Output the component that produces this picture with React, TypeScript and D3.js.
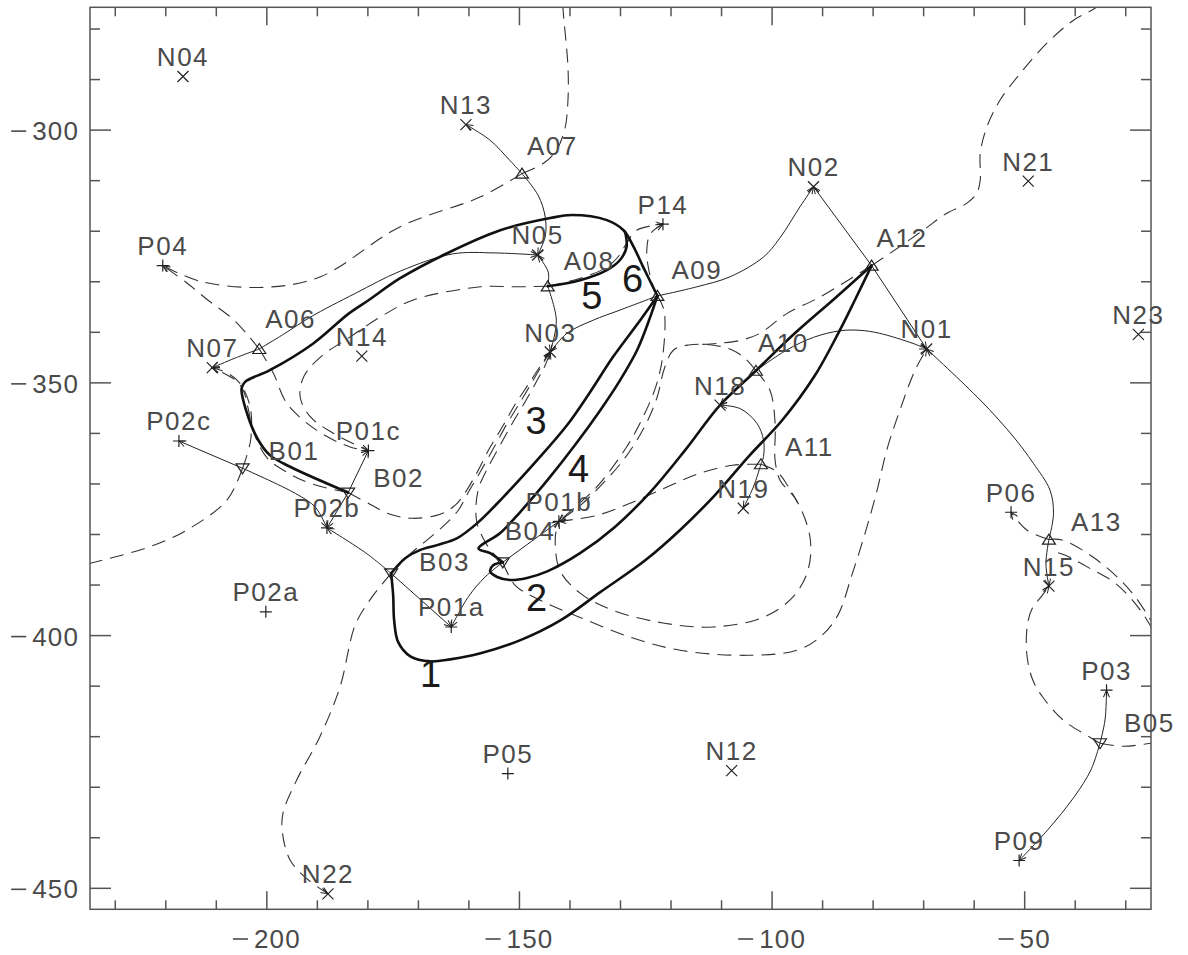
import React from 'react';
import * as d3 from 'd3';

type Node = [string, number, number];
type Pt = string | [number, number];
interface Trace { id: string; pts: Pt[] }

// ---- sources and nulls (x, y in Mm) ----
const negativeSources: Node[] = [
  ['N01', -69.4, -343.3], ['N02', -91.8, -311.2], ['N03', -143.9, -343.9], ['N04', -216.6, -289.4],
  ['N05', -146.4, -324.7], ['N07', -210.8, -347.0], ['N12', -108.0, -426.7], ['N13', -160.6, -298.9],
  ['N14', -181.2, -344.7], ['N15', -45.2, -390.2], ['N18', -110.3, -354.4], ['N19', -105.7, -374.8],
  ['N21', -49.3, -310.1], ['N22', -187.9, -451.1], ['N23', -27.5, -340.4],
];
const positiveSources: Node[] = [
  ['P01a', -163.5, -398.3], ['P01b', -142.2, -377.4], ['P01c', -179.9, -363.4],
  ['P02a', -200.2, -395.3], ['P02b', -188.1, -378.7], ['P02c', -217.4, -361.5],
  ['P03', -33.8, -410.8], ['P04', -220.6, -326.8], ['P05', -152.3, -427.3],
  ['P06', -52.7, -375.6], ['P09', -51.1, -444.5], ['P14', -121.6, -318.6],
];
const uprightNulls: Node[] = [
  ['A06', -201.5, -343.3], ['A07', -149.5, -308.6], ['A08', -144.4, -330.9], ['A09', -122.7, -332.8],
  ['A10', -103.2, -347.6], ['A11', -102.2, -366.1], ['A12', -80.3, -326.8], ['A13', -45.2, -381.0],
];
const proneNulls: Node[] = [
  ['B01', -204.8, -366.9], ['B02', -183.9, -371.7], ['B03', -175.4, -387.7],
  ['B04', -153.3, -385.5], ['B05', -35.1, -421.3],
];

// ---- separators (thick) ----
const separators: Trace[] = [
  { id: 'outer', pts: ['B02', [-195.4, -366.6], [-199.4, -364.3], [-201.7, -361.3], [-203.7, -356.7], [-205.0, -351.1], [-204.3, -349.8], [-199.4, -347.5], [-190.8, -342.2], [-183.8, -336.3], [-179.8, -333.6], [-173.6, -329.3], [-164.4, -324.4], [-153.8, -319.8], [-143.9, -317.4], [-139.7, -316.8], [-132.7, -317.8], [-129.4, -319.8], [-127.4, -323.1], [-125.5, -327.1], 'A09'] },
  { id: 'lobe5', pts: [[-129.1, -320.1], [-128.8, -323.1], [-130.1, -325.7], [-132.7, -327.7], [-138.0, -329.7], 'A08'] },
  { id: 'a09-b03', pts: ['A09', [-126.1, -337.6], [-131.5, -344.9], [-136.0, -351.8], [-140.6, -358.4], [-146.5, -365.3], [-153.2, -372.6], [-158.4, -377.8], [-162.3, -380.7], [-166.3, -382.1], [-169.7, -383.1], [-172.6, -384.7], 'B03'] },
  { id: 'a09-b04', pts: ['A09', [-124.2, -337.2], [-126.7, -343.5], [-130.1, -349.5], [-134.0, -355.4], [-139.0, -362.3], [-144.5, -369.3], [-149.9, -375.6], [-153.8, -379.7], [-158.1, -382.8], [-155.8, -383.7], 'B04'] },
  { id: 'b04-a12', pts: ['B04', [-155.2, -386.1], [-155.8, -387.3], [-154.4, -388.4], [-151.9, -389.0], [-148.5, -388.6], [-144.5, -387.3], [-138.0, -383.7], [-131.1, -378.5], [-124.1, -371.6], [-117.2, -363.3], 'N18', 'A10', [-95.5, -340.2], [-87.6, -333.3], 'A12'] },
  { id: 'b03-a12', pts: ['B03', [-175.0, -392.0], [-174.8, -397.0], [-174.0, -401.3], [-171.6, -404.1], [-167.6, -405.1], [-163.7, -404.7], [-157.7, -403.5], [-149.8, -400.9], [-141.9, -397.0], [-134.0, -391.4], [-125.1, -385.1], [-118.2, -379.1], [-111.3, -372.2], [-104.4, -364.3], [-98.0, -357.4], [-91.5, -348.5], [-86.6, -339.6], [-83.6, -333.6], 'A12'] },
];

// ---- spines (thin solid), null first ----
const spines: Trace[] = [
  { id: 'a07-n13', pts: ['A07', [-151.9, -306.0], [-155.8, -302.0], 'N13'] },
  { id: 'a07-n05', pts: ['A07', [-146.3, -312.9], [-144.9, -317.2], [-144.9, -321.0], 'N05'] },
  { id: 'a08-n05', pts: ['A08', [-144.3, -328.1], 'N05'] },
  { id: 'a08-n03', pts: ['A08', [-142.7, -337.6], 'N03'] },
  { id: 'a06-n07', pts: ['A06', [-206.3, -345.1], 'N07'] },
  { id: 'a06-n05', pts: ['A06', [-196.4, -340.2], [-191.4, -337.0], [-182.5, -332.3], [-173.6, -327.9], [-163.3, -324.5], [-154.8, -324.3], 'N05'] },
  { id: 'a09-n03', pts: ['A09', [-130.1, -335.6], [-135.4, -337.6], [-140.6, -340.2], 'N03'] },
  { id: 'a09-n02', pts: ['A09', [-114.9, -331.0], [-108.3, -329.0], [-101.7, -325.1], [-98.5, -321.4], [-94.5, -315.2], 'N02'] },
  { id: 'a12-n02', pts: ['A12', 'N02'] },
  { id: 'a12-n01', pts: ['A12', 'N01'] },
  { id: 'a10-n18', pts: ['A10', 'N18'] },
  { id: 'a10-n01', pts: ['A10', [-97.1, -343.5], [-91.8, -341.0], [-86.6, -339.7], [-82.6, -339.6], [-78.7, -340.2], [-72.1, -342.2], 'N01'] },
  { id: 'a11-n18', pts: ['A11', [-101.7, -364.6], [-101.7, -361.3], [-103.0, -358.0], [-106.3, -355.1], 'N18'] },
  { id: 'a11-n19', pts: ['A11', [-103.7, -370.6], 'N19'] },
  { id: 'a13-n01', pts: ['A13', [-44.3, -375.8], [-45.0, -371.2], [-48.3, -365.9], [-52.2, -360.7], [-58.8, -353.4], 'N01'] },
  { id: 'a13-n15', pts: ['A13', [-45.8, -385.7], 'N15'] },
  { id: 'b01-p02c', pts: ['B01', 'P02c'] },
  { id: 'b01-p02b', pts: ['B01', [-194.3, -371.9], [-190.4, -374.6], 'P02b'] },
  { id: 'b02-p01c', pts: ['B02', 'P01c'] },
  { id: 'b02-p02b', pts: ['B02', 'P02b'] },
  { id: 'b03-p02b', pts: ['B03', [-180.2, -383.8], 'P02b'] },
  { id: 'b03-p01a', pts: ['B03', 'P01a'] },
  { id: 'b04-p01a', pts: ['B04', [-156.8, -388.4], [-160.1, -392.3], 'P01a'] },
  { id: 'b04-p01b', pts: ['B04', 'P01b'] },
  { id: 'b05-p03', pts: ['B05', [-34.1, -416.7], 'P03'] },
  { id: 'b05-p09', pts: ['B05', [-36.9, -426.6], [-40.2, -431.9], [-45.5, -438.5], 'P09'] },
];

// ---- fan traces (dashed), null first ----
const fans: Trace[] = [
  { id: 'a07-p04', pts: ['A07', [-157.7, -313.2], [-173.6, -319.1], [-189.4, -329.0], [-200.6, -331.1], [-213.2, -329.9], 'P04'] },
  { id: 'a07-top', pts: ['A07', [-145.3, -306.6], [-142.7, -304.0], [-141.0, -299.7], [-140.4, -294.1], [-140.4, -287.5], [-141.4, -275.7], [-141.5, -273.0]] },
  { id: 'a06-p04', pts: ['A06', [-206.5, -337.6], [-211.7, -333.6], [-216.0, -330.1], 'P04'] },
  { id: 'a06-p01c', pts: ['A06', [-198.7, -348.1], [-196.0, -354.1], [-190.1, -359.4], [-183.5, -362.7], 'P01c'] },
  { id: 'a08-p01c', pts: ['A08', [-151.0, -331.0], [-157.7, -331.0], [-171.0, -333.6], [-177.6, -337.0], [-183.5, -340.9], [-189.4, -344.9], [-192.7, -348.8], [-193.4, -352.8], [-191.4, -356.7], [-186.8, -360.0], [-181.5, -362.7], 'P01c'] },
  { id: 'a08-p14', pts: ['A08', [-138.0, -329.3], [-133.0, -327.3], [-130.5, -325.1], [-128.8, -322.4], [-126.8, -319.8], 'P14'] },
  { id: 'a09-p14', pts: ['A09', [-123.5, -331.0], [-124.5, -327.1], [-124.8, -323.8], [-124.1, -320.5], 'P14'] },
  { id: 'a09-p01b', pts: ['A09', [-121.4, -335.6], [-121.5, -343.5], [-122.8, -350.1], [-125.5, -356.7], [-128.8, -362.7], [-134.7, -370.6], [-138.8, -374.4], 'P01b'] },
  { id: 'a10-p01b-up', pts: ['A10', [-105.3, -345.2], [-107.9, -343.5], [-111.9, -342.5], [-116.5, -342.5], [-119.5, -343.5], [-121.3, -347.1], [-122.8, -353.0], [-125.4, -359.0], [-129.0, -364.7], [-133.3, -369.7], [-137.9, -374.2], 'P01b'] },
  { id: 'a10-p01b-loop', pts: ['A10', [-100.4, -351.5], [-99.4, -358.0], [-99.4, -365.3], [-98.4, -369.3], [-95.2, -373.2], [-92.5, -380.5], [-92.9, -387.1], [-95.9, -392.4], [-101.8, -396.4], [-111.7, -398.3], [-121.6, -397.5], [-131.5, -395.0], [-138.0, -391.6], [-142.0, -387.1], [-142.9, -380.5], 'P01b'] },
  { id: 'a11-p01b', pts: ['A11', [-107.8, -366.3], [-114.3, -367.9], [-120.8, -370.6], [-128.1, -373.8], [-134.6, -376.2], 'P01b'] },
  { id: 'a11-east', pts: ['A11', [-99.0, -367.6], [-96.8, -370.5], [-95.0, -373.6]] },
  { id: 'a12-top', pts: ['A12', [-76.7, -324.4], [-70.1, -319.8], [-65.5, -316.5], [-61.5, -314.5], [-59.5, -312.5], [-58.8, -309.9], [-58.8, -304.6], [-57.5, -299.4], [-54.9, -294.1], [-50.9, -288.8], [-45.7, -282.9], [-40.4, -278.3], [-35.8, -275.7], [-33.5, -273.5]] },
  { id: 'a12-west', pts: ['A12', [-90.5, -333.0], [-97.1, -336.3], [-102.4, -340.2], [-106.3, -341.6], [-110.9, -342.2], [-114.0, -342.4]] },
  { id: 'b01-n07', pts: ['B01', [-203.2, -361.3], [-203.3, -354.8], [-205.3, -350.1], [-207.7, -348.1], 'N07'] },
  { id: 'b01-west', pts: ['B01', [-207.9, -373.2], [-215.8, -379.1], [-223.1, -382.4], [-235.0, -385.7], [-237.0, -386.2]] },
  { id: 'b02-n03', pts: ['B02', [-179.6, -374.0], [-175.6, -376.0], [-171.1, -376.8], [-165.7, -376.0], [-162.7, -374.2], [-160.8, -371.8], [-158.6, -368.1], [-156.0, -363.1], [-153.2, -358.4], [-150.7, -354.0], [-148.1, -350.1], [-145.9, -346.7], 'N03'] },
  { id: 'b02-n07', pts: ['B02', [-191.4, -369.9], [-196.0, -367.7], [-199.9, -364.9], [-202.6, -359.8], [-203.8, -354.6], [-204.7, -351.4], [-206.3, -349.4], 'N07'] },
  { id: 'b03-n03', pts: ['B03', [-171.7, -383.9], [-168.3, -381.1], [-164.7, -378.0], [-162.1, -375.2], [-160.2, -371.8], [-157.8, -367.7], [-155.0, -362.7], [-152.3, -357.8], [-149.6, -353.4], [-147.3, -349.5], [-145.3, -346.1], 'N03'] },
  { id: 'b03-n22', pts: ['B03', [-179.2, -392.4], [-182.5, -397.9], [-185.5, -410.1], [-189.5, -420.0], [-194.1, -428.6], [-196.8, -435.1], [-196.9, -439.1], [-195.4, -444.4], [-192.2, -448.0], 'N22'] },
  { id: 'b04-n03', pts: ['B04', [-155.4, -383.5], [-157.0, -381.1], [-158.4, -377.8], [-158.6, -374.2], [-158.0, -370.6], [-156.2, -366.7], [-153.8, -362.3], [-151.3, -357.8], [-148.9, -353.8], [-146.5, -349.5], [-144.9, -346.5], 'N03'] },
  { id: 'b04-n01', pts: ['B04', [-150.9, -390.0], [-145.9, -393.0], [-138.0, -396.4], [-128.1, -400.3], [-118.2, -402.9], [-104.9, -403.9], [-95.1, -402.9], [-90.5, -400.3], [-87.0, -396.0], [-84.2, -388.0], [-81.4, -379.1], [-79.2, -371.2], [-77.3, -363.3], [-74.7, -355.4], [-71.7, -347.5], 'N01'] },
  { id: 'b05-n15', pts: ['B05', [-37.1, -420.1], [-42.4, -416.7], [-46.4, -412.2], [-48.4, -408.8], [-49.6, -403.5], [-49.4, -397.5], [-48.4, -394.4], [-46.8, -392.4], 'N15'] },
  { id: 'b05-east', pts: ['B05', [-30.6, -421.9], [-25.0, -421.3], [-23.0, -421.0]] },
  { id: 'a13-p06', pts: ['A13', [-49.6, -379.1], 'P06'] },
  { id: 'a13-east', pts: ['A13', [-42.6, -381.1], [-35.6, -385.1], [-29.2, -391.0], [-25.0, -397.0], [-23.5, -399.5]] },
  { id: 'east-trace', pts: [[-43.4, -383.6], [-41.7, -384.2], [-37.1, -386.7], [-32.5, -389.3], [-29.2, -392.4], [-26.8, -395.4], [-24.6, -398.9], [-23.5, -400.8]] },
];

// ---- numbered flux domains ----
const domainNumbers: [string, number, number][] = [
  ['1', -167.6, -407.4], ['2', -146.6, -392.5], ['3', -146.7, -357.4],
  ['4', -138.3, -367.0], ['5', -135.7, -332.7], ['6', -127.6, -329.3],
];

// ---- axes ----
const xDomain: [number, number] = [-235, -25];
const yDomain: [number, number] = [-275.7, -454.15];
const xMajorTicks = [-200, -150, -100, -50];
const yMajorTicks = [-300, -350, -400, -450];
const xMinorTicks = [-230, -220, -210, -190, -180, -170, -160, -140, -130, -120, -110, -90, -80, -70, -60, -40, -30];
const yMinorTicks = [-280, -290, -310, -320, -330, -340, -360, -370, -380, -390, -410, -420, -430, -440];

// label placement for nulls (pixel offset of text start / baseline)
const nullLabelOffset: Record<string, [number, number]> = {
  A06: [6, -21], A07: [5, -19], A08: [16, -16], A09: [14, -17], A10: [2, -19], A11: [24, -8],
  A12: [5, -19], A13: [22, -9], B01: [26, -8], B02: [25, -6], B03: [28, -2], B04: [2, -22], B05: [24, -11],
};

const frame = { left: 90, right: 1151, top: 7.3, bottom: 909.3 };
const FONT = "'Liberation Sans', Arial, sans-serif";
const AXIS = '#555';
const TEXT = '#4a4a4a';

// tick label: long minus bar followed by the magnitude
function TickLabel({ x, y, value, anchor }: { x: number; y: number; value: number; anchor: 'middle' | 'end' }) {
  const digits = String(Math.abs(value));
  const digitW = 15.6;
  const minusW = 15;
  const gap = 6;
  const total = minusW + gap + digits.length * digitW;
  const x0 = anchor === 'middle' ? x - total / 2 : x - total;
  return (
    <g>
      <line x1={x0} x2={x0 + minusW} y1={y - 9} y2={y - 9} stroke={TEXT} strokeWidth={1.6} />
      <text x={x0 + minusW + gap} y={y} letterSpacing={1.2}>{digits}</text>
    </g>
  );
}

export default function App() {
  const x = d3.scaleLinear().domain(xDomain).range([frame.left, frame.right]);
  const y = d3.scaleLinear().domain(yDomain).range([frame.top, frame.bottom]);

  const nodeMap = new Map<string, [number, number]>();
  [...negativeSources, ...positiveSources, ...uprightNulls, ...proneNulls].forEach(([n, vx, vy]) => nodeMap.set(n, [vx, vy]));
  const resolve = (p: Pt): [number, number] => (typeof p === 'string' ? nodeMap.get(p)! : p);

  const line = d3.line<[number, number]>()
    .x(d => x(d[0]))
    .y(d => y(d[1]))
    .curve(d3.curveCatmullRom.alpha(0.5));
  const pathOf = (t: Trace) => line(t.pts.map(resolve)) || '';
  const endsAtSource = (t: Trace) => {
    const last = t.pts[t.pts.length - 1];
    return typeof last === 'string' && (last[0] === 'N' || last[0] === 'P');
  };

  const tri = (up: boolean) => (up ? 'M0,-5.5 L6.5,4.5 L-6.5,4.5 Z' : 'M0,5.5 L6.5,-4.5 L-6.5,-4.5 Z');

  return (
    <svg width={1188} height={955} style={{ position: 'absolute', left: 0, top: 0, background: '#fff' }}
      fontFamily={FONT}>
      <defs>
        <clipPath id="plot-clip">
          <rect x={frame.left} y={frame.top} width={frame.right - frame.left} height={frame.bottom - frame.top} />
        </clipPath>
        <marker id="arrow" viewBox="-9 -5 10 10" refX={0} refY={0} markerWidth={10} markerHeight={10}
          markerUnits="userSpaceOnUse" orient="auto">
          <path d="M-7,-3 L0,0 L-7,3" fill="none" stroke="#222" strokeWidth={1} />
        </marker>
      </defs>
      <rect x={0} y={0} width={1188} height={955} fill="#fff" />

      <g clipPath="url(#plot-clip)">
        {fans.map(t => (
          <path key={t.id} d={pathOf(t)} fill="none" stroke="#333" strokeWidth={1.1}
            strokeDasharray="14 8" markerEnd={endsAtSource(t) ? 'url(#arrow)' : undefined} />
        ))}
        {spines.map(t => (
          <path key={t.id} d={pathOf(t)} fill="none" stroke="#222" strokeWidth={1}
            markerEnd={endsAtSource(t) ? 'url(#arrow)' : undefined} />
        ))}
        {separators.map(t => (
          <path key={t.id} d={pathOf(t)} fill="none" stroke="#111" strokeWidth={2.6}
            strokeLinejoin="round" strokeLinecap="round" />
        ))}
      </g>

      {/* frame and ticks */}
      <rect x={frame.left} y={frame.top} width={frame.right - frame.left} height={frame.bottom - frame.top}
        fill="none" stroke={AXIS} strokeWidth={1.5} />
      <g stroke={AXIS} strokeWidth={1.5}>
        {xMajorTicks.map(v => (
          <g key={'xM' + v}>
            <line x1={x(v)} x2={x(v)} y1={frame.bottom} y2={frame.bottom - 18} />
            <line x1={x(v)} x2={x(v)} y1={frame.top} y2={frame.top + 18} />
          </g>
        ))}
        {xMinorTicks.map(v => (
          <g key={'xm' + v}>
            <line x1={x(v)} x2={x(v)} y1={frame.bottom} y2={frame.bottom - 9} />
            <line x1={x(v)} x2={x(v)} y1={frame.top} y2={frame.top + 9} />
          </g>
        ))}
        {yMajorTicks.map(v => (
          <g key={'yM' + v}>
            <line x1={frame.left} x2={frame.left + 21} y1={y(v)} y2={y(v)} />
            <line x1={frame.right} x2={frame.right - 21} y1={y(v)} y2={y(v)} />
          </g>
        ))}
        {yMinorTicks.map(v => (
          <g key={'ym' + v}>
            <line x1={frame.left} x2={frame.left + 10} y1={y(v)} y2={y(v)} />
            <line x1={frame.right} x2={frame.right - 10} y1={y(v)} y2={y(v)} />
          </g>
        ))}
      </g>
      <g fill={TEXT} fontSize={26}>
        {xMajorTicks.map(v => (
          <TickLabel key={'xl' + v} x={x(v)} y={948} value={v} anchor="middle" />
        ))}
        {yMajorTicks.map(v => (
          <TickLabel key={'yl' + v} x={79} y={y(v) + 10} value={v} anchor="end" />
        ))}
      </g>

      {/* source and null markers */}
      <g stroke="#222" strokeWidth={1.2} fill="none">
        {negativeSources.map(([n, vx, vy]) => (
          <path key={n} transform={`translate(${x(vx)},${y(vy)})`} d="M-5.5,-5.5 L5.5,5.5 M-5.5,5.5 L5.5,-5.5" />
        ))}
        {positiveSources.map(([n, vx, vy]) => (
          <path key={n} transform={`translate(${x(vx)},${y(vy)})`} d="M-6,0 L6,0 M0,-6 L0,6" />
        ))}
        {uprightNulls.map(([n, vx, vy]) => (
          <path key={n} transform={`translate(${x(vx)},${y(vy)})`} d={tri(true)} />
        ))}
        {proneNulls.map(([n, vx, vy]) => (
          <path key={n} transform={`translate(${x(vx)},${y(vy)})`} d={tri(false)} />
        ))}
      </g>

      {/* labels */}
      <g fill={TEXT} fontSize={26} letterSpacing={1.5}>
        {[...negativeSources, ...positiveSources].map(([n, vx, vy]) => (
          <text key={n} x={x(vx)} y={y(vy) - 10.5} textAnchor="middle">{n}</text>
        ))}
        {[...uprightNulls, ...proneNulls].map(([n, vx, vy]) => {
          const [dx, dy] = nullLabelOffset[n] || [4, -12];
          return <text key={n} x={x(vx) + dx} y={y(vy) + dy}>{n}</text>;
        })}
      </g>
      <g fill="#1a1a1a" fontSize={38}>
        {domainNumbers.map(([t, vx, vy]) => (
          <text key={t} x={x(vx)} y={y(vy)} dy="0.36em" textAnchor="middle">{t}</text>
        ))}
      </g>
    </svg>
  );
}
